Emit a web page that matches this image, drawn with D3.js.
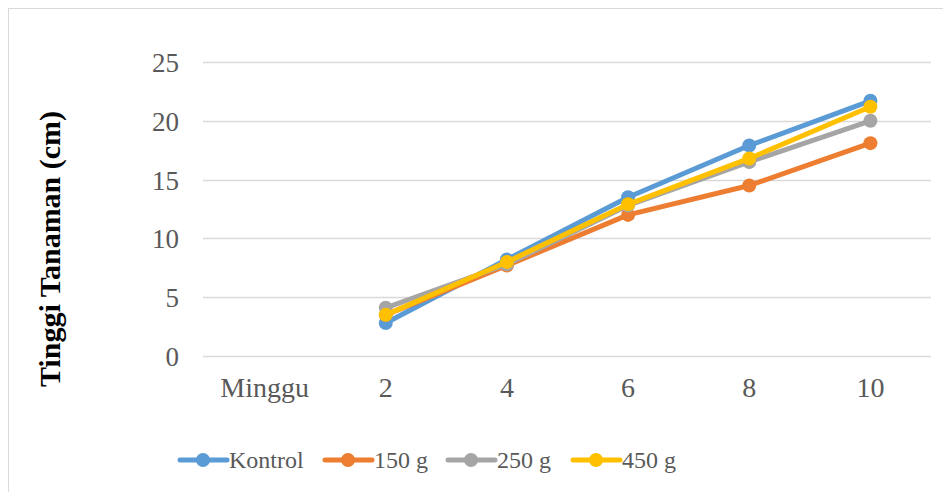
<!DOCTYPE html>
<html><head><meta charset="utf-8">
<script src="https://cdn.jsdelivr.net/npm/d3@7"></script>
<style>body{margin:0;background:#fff}svg{display:block}</style>
</head><body>
<svg id="c" width="943" height="492"></svg>
<script>
const categories = ["Minggu", "2", "4", "6", "8", "10"];
const seriesNames = ["Kontrol", "150 g", "250 g", "450 g"];
const kontrol = [null, 2.8, 8.2, 13.5, 17.9, 21.7];
const g150 = [null, 3.5, 7.7, 12.0, 14.5, 18.1];
const g250 = [null, 4.1, 7.8, 12.8, 16.5, 20.0];
const g450 = [null, 3.5, 8.0, 12.9, 16.8, 21.2];
const yTicks = [0, 5, 10, 15, 20, 25];
const colors = ["#5B9BD5", "#ED7D31", "#A5A5A5", "#FFC000"];
const allSeries = [kontrol, g150, g250, g450];

const svg = d3.select("#c");
const textColor = "#595959";
const serif = "'Liberation Serif', 'Times New Roman', serif";
svg.append("rect").attr("x", 8.5).attr("y", 8.5).attr("width", 1000).attr("height", 600)
  .attr("fill", "none").attr("stroke", "#D9D9D9").attr("stroke-width", 1);

const x = d3.scaleBand().domain(categories).range([204, 931]);
const y = d3.scaleLinear().domain([0, 25]).range([356, 62]);

svg.append("g").selectAll("line").data(yTicks).join("line")
  .attr("x1", 203).attr("x2", 931)
  .attr("y1", d => Math.round(y(d)) + 0.5).attr("y2", d => Math.round(y(d)) + 0.5)
  .attr("stroke", "#D9D9D9").attr("stroke-width", 1.5);

const yAxis = d3.axisLeft(y).tickValues(yTicks).tickSize(0).tickPadding(0);
const ya = svg.append("g").attr("transform", "translate(179,0)").call(yAxis);
ya.select(".domain").remove();
ya.selectAll("text").style("font-family", serif).style("font-size", "27px")
  .attr("fill", textColor).attr("dy", "0.35em");

const xAxis = d3.axisBottom(x).tickSize(0).tickPadding(0);
const xa = svg.append("g").attr("transform", "translate(0,373)").call(xAxis);
xa.select(".domain").remove();
xa.selectAll("text").style("font-family", serif).style("font-size", "28px")
  .attr("fill", textColor).attr("dy", "0.85em");

svg.append("text").attr("transform", "translate(60,249) rotate(-90)")
  .attr("text-anchor", "middle").style("font-family", serif)
  .attr("font-weight", "bold").style("font-size", "30px").attr("fill", "#000")
  .text("Tinggi Tanaman (cm)");

const line = d3.line().defined(d => d.v != null)
  .x(d => x(d.c) + x.bandwidth() / 2).y(d => y(d.v));
allSeries.forEach((s, i) => {
  const pts = categories.map((c, j) => ({c, v: s[j]}));
  svg.append("path").datum(pts).attr("d", line).attr("fill", "none")
    .attr("stroke", colors[i]).attr("stroke-width", 5).attr("stroke-linejoin", "round").attr("stroke-linecap", "round");
  svg.append("g").selectAll("circle").data(pts.filter(d => d.v != null)).join("circle")
    .attr("cx", d => x(d.c) + x.bandwidth() / 2).attr("cy", d => y(d.v)).attr("r", 7)
    .attr("fill", colors[i]);
});

const legX = [180, 325, 448, 573];
const lg = svg.append("g");
seriesNames.forEach((n, i) => {
  const g = lg.append("g").attr("transform", `translate(${legX[i]},460)`);
  g.append("line").attr("x1", 0).attr("x2", 47).attr("y1", 0).attr("y2", 0)
    .attr("stroke", colors[i]).attr("stroke-width", 5).attr("stroke-linecap", "round");
  g.append("circle").attr("cx", 23).attr("cy", 0).attr("r", 7).attr("fill", colors[i]);
  g.append("text").attr("x", 49).attr("y", 0).attr("dy", "0.33em")
    .style("font-family", serif).style("font-size", "24px").attr("fill", textColor).text(n);
});
</script>
</body></html>
